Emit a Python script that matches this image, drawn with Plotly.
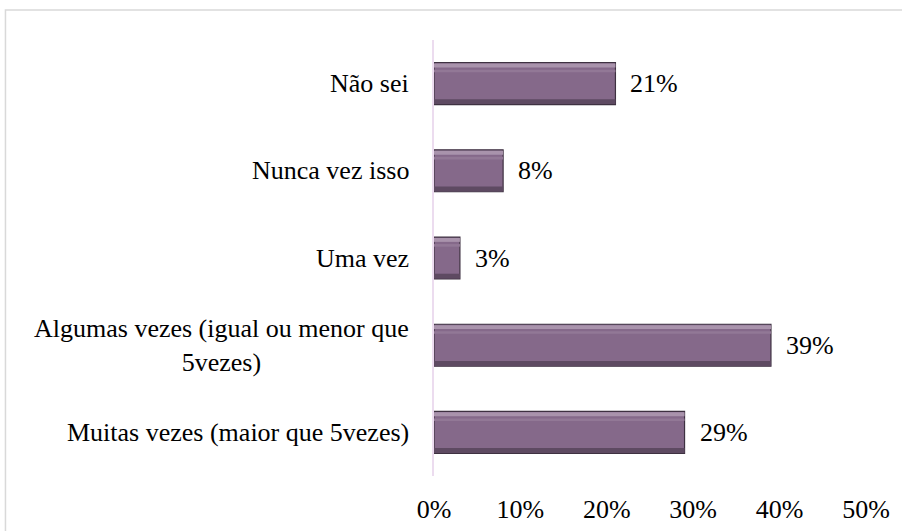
import plotly.graph_objects as go

# Survey answers (top to bottom) and their shares in percent
categories = [
    "Não sei",
    "Nunca vez isso",
    "Uma vez",
    "Algumas vezes (igual ou menor que<br>5vezes)",
    "Muitas vezes (maior que 5vezes)",
]
values = [21, 8, 3, 39, 29]
tick_values = [0, 10, 20, 30, 40, 50]
tick_labels = [f"{v}%" for v in tick_values]

FONT = "Liberation Serif"
FONT_SIZE = 26
BAR_W = 0.48

fig = go.Figure()

# main bar body
fig.add_trace(go.Bar(
    y=categories, x=values, orientation="h", width=BAR_W,
    marker=dict(color="#85698a", line=dict(color="#3e3141", width=1.2)),
    hoverinfo="skip",
))
# light bevel along the top edge
fig.add_trace(go.Bar(
    y=categories, x=values, orientation="h", width=0.045, offset=-0.23,
    marker=dict(color="#a993ac", line=dict(width=0)),
    hoverinfo="skip",
))
# soft highlight just below it
fig.add_trace(go.Bar(
    y=categories, x=values, orientation="h", width=0.03, offset=-0.16,
    marker=dict(color="#927896", line=dict(width=0)),
    hoverinfo="skip",
))
# dark bevel along the bottom edge
fig.add_trace(go.Bar(
    y=categories, x=values, orientation="h", width=0.055, offset=0.18,
    marker=dict(color="#5e4a62", line=dict(width=0)),
    hoverinfo="skip",
))

annotations = []
# category labels, centred line by line
for c in categories:
    annotations.append(dict(
        x=0, y=c, xref="x", yref="y", text=c, showarrow=False,
        xanchor="right", yanchor="middle", align="center", xshift=-23,
        font=dict(family=FONT, size=FONT_SIZE, color="#000000"),
    ))
# value labels at the bar ends
for c, v in zip(categories, values):
    annotations.append(dict(
        x=v, y=c, xref="x", yref="y", text=f"{v}%", showarrow=False,
        xanchor="left", yanchor="middle", xshift=13,
        font=dict(family=FONT, size=FONT_SIZE, color="#000000"),
    ))

fig.update_layout(
    width=902, height=531,
    margin=dict(l=434, r=36, t=40, b=55),
    paper_bgcolor="#ffffff", plot_bgcolor="#ffffff",
    barmode="overlay", showlegend=False,
    font=dict(family=FONT, size=FONT_SIZE, color="#000000"),
    annotations=annotations,
    shapes=[dict(
        type="path", xref="paper", yref="paper",
        path="M -0.992,-0.3 L -0.992,1.069 L 1.2,1.069",
        line=dict(color="#d9d9d9", width=1.5),
    )],
    xaxis=dict(
        range=[0, 50], tickvals=tick_values, ticktext=tick_labels,
        showgrid=False, zeroline=False, showline=False, ticks="",
        ticklabelstandoff=15, automargin=False,
        tickfont=dict(family=FONT, size=FONT_SIZE, color="#000000"),
    ),
    yaxis=dict(
        autorange="reversed", showticklabels=False, showgrid=False,
        zeroline=False, showline=True, linecolor="#ecdcef", linewidth=1.5,
        ticks="", automargin=False,
    ),
)

fig.write_html("out.html")
